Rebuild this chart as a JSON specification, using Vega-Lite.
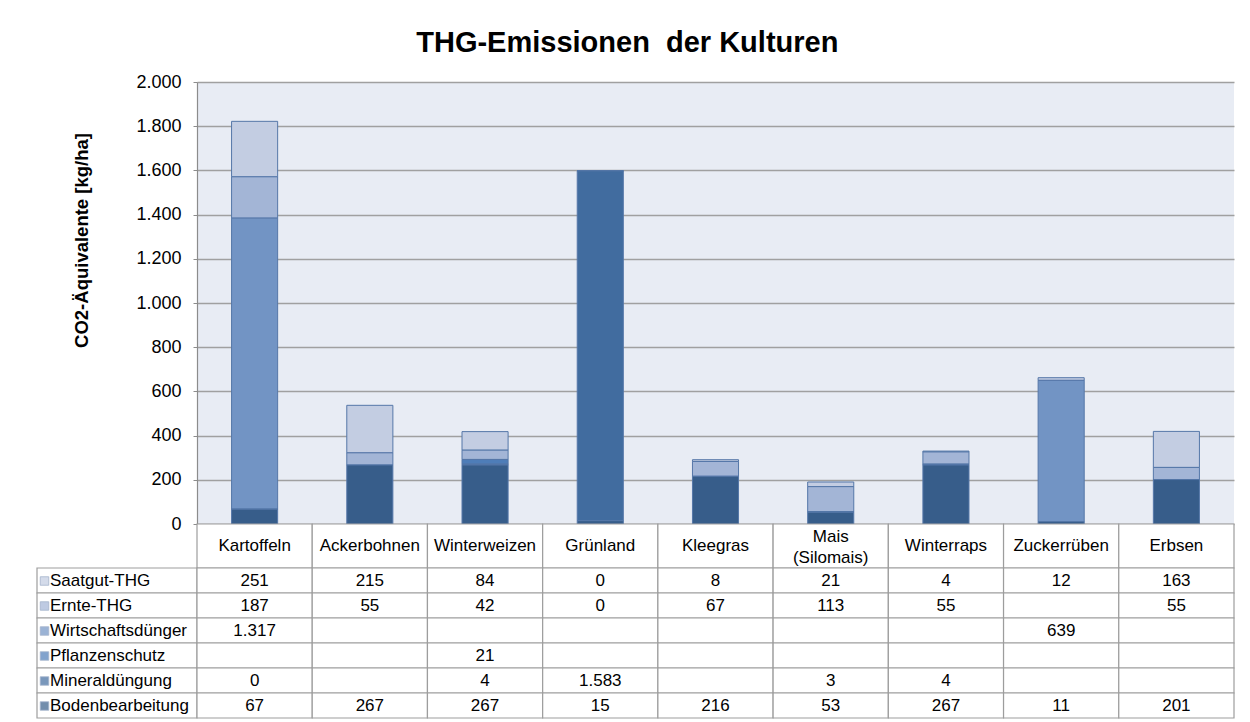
{
  "$schema": "https://vega.github.io/schema/vega-lite/v6.json",
  "padding": {"left": 36, "top": 29, "right": 0, "bottom": 0},
  "background": "white",
  "title": {"text": "THG-Emissionen\u00a0 der Kulturen", "fontSize": 29, "font": "Liberation Sans", "fontWeight": "bold", "color": "#000000", "anchor": "middle", "offset": 15, "dx": -8},
  "config": {
    "locale": {"number": {"decimal": ",", "thousands": ".", "grouping": [3], "currency": ["", " €"]}},
    "view": {"stroke": null},
    "font": "Liberation Sans"
  },
  "datasets": {
    "crops": [
      {"crop": "Kartoffeln"}, {"crop": "Ackerbohnen"}, {"crop": "Winterweizen"}, {"crop": "Grünland"}, {"crop": "Kleegras"},
      {"crop": "Mais (Silomais)"}, {"crop": "Winterraps"}, {"crop": "Zuckerrüben"}, {"crop": "Erbsen"}
    ],
    "series": [
      {"series": "Saatgut-THG"}, {"series": "Ernte-THG"}, {"series": "Wirtschaftsdünger"}, {"series": "Pflanzenschutz"}, {"series": "Mineraldüngung"}, {"series": "Bodenbearbeitung"}
    ],
    "tab": [
      {"crop": "Kartoffeln", "series": "Saatgut-THG", "value": 251},
      {"crop": "Ackerbohnen", "series": "Saatgut-THG", "value": 215},
      {"crop": "Winterweizen", "series": "Saatgut-THG", "value": 84},
      {"crop": "Grünland", "series": "Saatgut-THG", "value": 0},
      {"crop": "Kleegras", "series": "Saatgut-THG", "value": 8},
      {"crop": "Mais (Silomais)", "series": "Saatgut-THG", "value": 21},
      {"crop": "Winterraps", "series": "Saatgut-THG", "value": 4},
      {"crop": "Zuckerrüben", "series": "Saatgut-THG", "value": 12},
      {"crop": "Erbsen", "series": "Saatgut-THG", "value": 163},
      {"crop": "Kartoffeln", "series": "Ernte-THG", "value": 187},
      {"crop": "Ackerbohnen", "series": "Ernte-THG", "value": 55},
      {"crop": "Winterweizen", "series": "Ernte-THG", "value": 42},
      {"crop": "Grünland", "series": "Ernte-THG", "value": 0},
      {"crop": "Kleegras", "series": "Ernte-THG", "value": 67},
      {"crop": "Mais (Silomais)", "series": "Ernte-THG", "value": 113},
      {"crop": "Winterraps", "series": "Ernte-THG", "value": 55},
      {"crop": "Zuckerrüben", "series": "Ernte-THG", "value": null},
      {"crop": "Erbsen", "series": "Ernte-THG", "value": 55},
      {"crop": "Kartoffeln", "series": "Wirtschaftsdünger", "value": 1317},
      {"crop": "Ackerbohnen", "series": "Wirtschaftsdünger", "value": null},
      {"crop": "Winterweizen", "series": "Wirtschaftsdünger", "value": null},
      {"crop": "Grünland", "series": "Wirtschaftsdünger", "value": null},
      {"crop": "Kleegras", "series": "Wirtschaftsdünger", "value": null},
      {"crop": "Mais (Silomais)", "series": "Wirtschaftsdünger", "value": null},
      {"crop": "Winterraps", "series": "Wirtschaftsdünger", "value": null},
      {"crop": "Zuckerrüben", "series": "Wirtschaftsdünger", "value": 639},
      {"crop": "Erbsen", "series": "Wirtschaftsdünger", "value": null},
      {"crop": "Kartoffeln", "series": "Pflanzenschutz", "value": null},
      {"crop": "Ackerbohnen", "series": "Pflanzenschutz", "value": null},
      {"crop": "Winterweizen", "series": "Pflanzenschutz", "value": 21},
      {"crop": "Grünland", "series": "Pflanzenschutz", "value": null},
      {"crop": "Kleegras", "series": "Pflanzenschutz", "value": null},
      {"crop": "Mais (Silomais)", "series": "Pflanzenschutz", "value": null},
      {"crop": "Winterraps", "series": "Pflanzenschutz", "value": null},
      {"crop": "Zuckerrüben", "series": "Pflanzenschutz", "value": null},
      {"crop": "Erbsen", "series": "Pflanzenschutz", "value": null},
      {"crop": "Kartoffeln", "series": "Mineraldüngung", "value": 0},
      {"crop": "Ackerbohnen", "series": "Mineraldüngung", "value": null},
      {"crop": "Winterweizen", "series": "Mineraldüngung", "value": 4},
      {"crop": "Grünland", "series": "Mineraldüngung", "value": 1583},
      {"crop": "Kleegras", "series": "Mineraldüngung", "value": null},
      {"crop": "Mais (Silomais)", "series": "Mineraldüngung", "value": 3},
      {"crop": "Winterraps", "series": "Mineraldüngung", "value": 4},
      {"crop": "Zuckerrüben", "series": "Mineraldüngung", "value": null},
      {"crop": "Erbsen", "series": "Mineraldüngung", "value": null},
      {"crop": "Kartoffeln", "series": "Bodenbearbeitung", "value": 67},
      {"crop": "Ackerbohnen", "series": "Bodenbearbeitung", "value": 267},
      {"crop": "Winterweizen", "series": "Bodenbearbeitung", "value": 267},
      {"crop": "Grünland", "series": "Bodenbearbeitung", "value": 15},
      {"crop": "Kleegras", "series": "Bodenbearbeitung", "value": 216},
      {"crop": "Mais (Silomais)", "series": "Bodenbearbeitung", "value": 53},
      {"crop": "Winterraps", "series": "Bodenbearbeitung", "value": 267},
      {"crop": "Zuckerrüben", "series": "Bodenbearbeitung", "value": 11},
      {"crop": "Erbsen", "series": "Bodenbearbeitung", "value": 201}
    ]
  },
  "columns": 2,
  "spacing": 0,
  "bounds": "flush",
  "align": "each",
  "resolve": {"scale": {"color": "independent"}, "legend": {"color": "independent"}},
  "concat": [
    {
      "width": 160, "height": 442,
      "data": {"values": [{}]},
      "mark": {"type": "text"},
      "encoding": {"text": {"value": ""}}
    },
    {
      "width": 1037, "height": 442,
      "view": {"fill": "#E8ECF4", "stroke": null},
      "data": {"name": "tab"},
      "transform": [
        {"calculate": "indexof(['Bodenbearbeitung','Mineraldüngung','Pflanzenschutz','Wirtschaftsdünger','Ernte-THG','Saatgut-THG'], datum.series)", "as": "stackorder"}
      ],
      "mark": {"type": "bar", "stroke": "#5577A8", "strokeWidth": 1},
      "encoding": {
        "x": {"field": "crop", "type": "nominal", "sort": ["Kartoffeln", "Ackerbohnen", "Winterweizen", "Grünland", "Kleegras", "Mais (Silomais)", "Winterraps", "Zuckerrüben", "Erbsen"], "scale": {"paddingInner": 0.6, "paddingOuter": 0.3}, "axis": null},
        "y": {"field": "value", "type": "quantitative", "stack": "zero",
          "scale": {"domain": [0, 2000], "nice": false},
          "axis": {"values": [0, 200, 400, 600, 800, 1000, 1200, 1400, 1600, 1800, 2000], "format": ",d",
            "labelFontSize": 18, "labelColor": "#000000", "labelPadding": 12, "labelFont": "Liberation Sans",
            "tickSize": 4, "tickColor": "#8C8C8C", "domainColor": "#8C8C8C", "domainWidth": 1.2,
            "grid": true, "gridColor": "#A0A0A0", "gridWidth": 1.4,
            "title": "CO2-Äquivalente [kg/ha]", "titleFontSize": 18.5, "titleFontWeight": "bold", "titleColor": "#000000", "titleFont": "Liberation Sans", "titlePadding": 44, "titleY": 158}},
        "color": {"field": "series", "type": "nominal", "legend": null,
          "scale": {"domain": ["Saatgut-THG", "Ernte-THG", "Wirtschaftsdünger", "Pflanzenschutz", "Mineraldüngung", "Bodenbearbeitung"],
                    "range": ["#C3CDE2", "#A3B5D6", "#7294C4", "#4E7DB8", "#416C9F", "#375D8A"]}},
        "order": {"field": "stackorder", "type": "quantitative"}
      }
    },
    {
      "width": 160, "height": 44,
      "data": {"values": [{}]},
      "mark": {"type": "text"},
      "encoding": {"text": {"value": ""}}
    },
    {
      "width": 1037, "height": 44,
      "data": {"name": "crops"},
      "layer": [
        {
          "mark": {"type": "rect", "fill": "white", "stroke": "#9D9D9D", "strokeWidth": 1.2},
          "encoding": {
            "x": {"field": "crop", "type": "nominal", "sort": ["Kartoffeln", "Ackerbohnen", "Winterweizen", "Grünland", "Kleegras", "Mais (Silomais)", "Winterraps", "Zuckerrüben", "Erbsen"], "scale": {"paddingInner": 0, "paddingOuter": 0}, "axis": null}
          }
        },
        {
          "transform": [{"filter": "datum.crop != 'Mais (Silomais)'"}],
          "mark": {"type": "text", "fontSize": 17, "font": "Liberation Sans", "color": "#000000"},
          "encoding": {
            "x": {"field": "crop", "type": "nominal", "sort": ["Kartoffeln", "Ackerbohnen", "Winterweizen", "Grünland", "Kleegras", "Mais (Silomais)", "Winterraps", "Zuckerrüben", "Erbsen"], "axis": null},
            "text": {"field": "crop", "type": "nominal"}
          }
        },
        {
          "transform": [{"filter": "datum.crop == 'Mais (Silomais)'"}],
          "mark": {"type": "text", "fontSize": 17, "font": "Liberation Sans", "color": "#000000", "lineBreak": " ", "lineHeight": 21, "dy": -9},
          "encoding": {
            "x": {"field": "crop", "type": "nominal", "sort": ["Kartoffeln", "Ackerbohnen", "Winterweizen", "Grünland", "Kleegras", "Mais (Silomais)", "Winterraps", "Zuckerrüben", "Erbsen"], "axis": null},
            "text": {"field": "crop", "type": "nominal"}
          }
        }
      ]
    },
    {
      "width": 160, "height": 150,
      "data": {"name": "series"},
      "layer": [
        {
          "mark": {"type": "rect", "fill": "white", "stroke": "#9D9D9D", "strokeWidth": 1.2},
          "encoding": {
            "y": {"field": "series", "type": "nominal", "sort": ["Saatgut-THG", "Ernte-THG", "Wirtschaftsdünger", "Pflanzenschutz", "Mineraldüngung", "Bodenbearbeitung"], "scale": {"paddingInner": 0, "paddingOuter": 0}, "axis": null}
          }
        },
        {
          "transform": [{"filter": "false"}],
          "mark": {"type": "square", "filled": true},
          "encoding": {
            "y": {"field": "series", "type": "nominal", "sort": ["Saatgut-THG", "Ernte-THG", "Wirtschaftsdünger", "Pflanzenschutz", "Mineraldüngung", "Bodenbearbeitung"], "axis": null},
            "color": {"field": "series", "type": "nominal",
              "scale": {"domain": ["Saatgut-THG", "Ernte-THG", "Wirtschaftsdünger", "Pflanzenschutz", "Mineraldüngung", "Bodenbearbeitung"],
                        "range": ["#C3CDE2", "#A3B5D6", "#7294C4", "#4E7DB8", "#416C9F", "#375D8A"]},
              "legend": {"title": null, "orient": "none", "legendX": -1, "legendY": 4.5, "padding": 0, "symbolType": "square", "symbolSize": 72,
                "symbolStrokeColor": "#7F94B8", "symbolStrokeWidth": 0.8, "labelFontSize": 17, "labelFont": "Liberation Sans", "labelColor": "#000000",
                "labelOffset": -3, "rowPadding": 7.0, "labelLimit": 200}}
          }
        }
      ]
    },
    {
      "width": 1037, "height": 150,
      "data": {"name": "tab"},
      "layer": [
        {
          "mark": {"type": "rect", "fill": "white", "stroke": "#9D9D9D", "strokeWidth": 1.2},
          "encoding": {
            "x": {"field": "crop", "type": "nominal", "sort": ["Kartoffeln", "Ackerbohnen", "Winterweizen", "Grünland", "Kleegras", "Mais (Silomais)", "Winterraps", "Zuckerrüben", "Erbsen"], "scale": {"paddingInner": 0, "paddingOuter": 0}, "axis": null},
            "y": {"field": "series", "type": "nominal", "sort": ["Saatgut-THG", "Ernte-THG", "Wirtschaftsdünger", "Pflanzenschutz", "Mineraldüngung", "Bodenbearbeitung"], "scale": {"paddingInner": 0, "paddingOuter": 0}, "axis": null}
          }
        },
        {
          "transform": [{"filter": "isValid(datum.value)"}],
          "mark": {"type": "text", "fontSize": 17, "font": "Liberation Sans", "color": "#000000"},
          "encoding": {
            "x": {"field": "crop", "type": "nominal", "sort": ["Kartoffeln", "Ackerbohnen", "Winterweizen", "Grünland", "Kleegras", "Mais (Silomais)", "Winterraps", "Zuckerrüben", "Erbsen"], "axis": null},
            "y": {"field": "series", "type": "nominal", "sort": ["Saatgut-THG", "Ernte-THG", "Wirtschaftsdünger", "Pflanzenschutz", "Mineraldüngung", "Bodenbearbeitung"], "axis": null},
            "text": {"field": "value", "type": "quantitative", "format": ",d"}
          }
        }
      ]
    }
  ]
}
